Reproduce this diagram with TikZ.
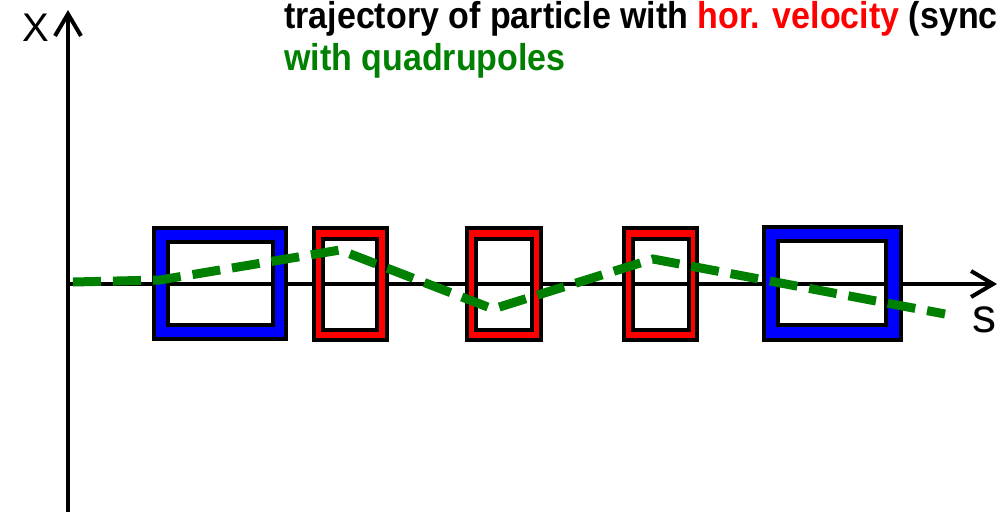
\documentclass[tikz,border=0pt]{standalone}
\usepackage{fontspec}
\setmainfont{Liberation Sans}
\usetikzlibrary{arrows.meta}
\definecolor{trajgreen}{RGB}{0,128,0}
\definecolor{magblue}{RGB}{0,0,255}
\definecolor{magred}{RGB}{255,0,0}
\tikzset{
  axisline/.style={line width=4.5pt, -{Straight Barb[length=22pt,width=26pt,line width=4pt]}},
  frameline/.style={draw=black, line width=4pt},
  traj/.style={draw=trajgreen, line width=9pt, dash pattern=on 28pt off 12pt},
  title/.style={anchor=base west, inner sep=0pt, font=\bfseries\fontsize{34}{34}\selectfont},
  axlabel/.style={inner sep=0pt, font=\fontsize{40}{40}\selectfont}
}
\newcommand{\magnet}[9]{%
  % #1 fill colour, #2-#5 outer x1 y1 x2 y2, #6-#9 inner x1 y1 x2 y2
  \fill[#1, even odd rule] (#2,#3) rectangle (#4,#5) (#6,#7) rectangle (#8,#9);
  \draw[frameline] (#2,#3) rectangle (#4,#5);
  \draw[frameline] (#6,#7) rectangle (#8,#9);
}
\begin{document}
\begin{tikzpicture}[x=1pt,y=-1pt]
\useasboundingbox (0,0) rectangle (998,512);
\clip (0,0) rectangle (998,512);
% axes
\coordinate (origin) at (68,284);
\coordinate (xtop) at (68,10);
\coordinate (xbot) at (68,512);
\coordinate (send) at (997,284);
\draw[axisline] (xbot) -- (xtop);
\draw[axisline] (origin) -- (send);
\node[axlabel] (xlab) at (36,28) {X};
\node[axlabel, anchor=base, font=\fontsize{48}{48}\selectfont] (slab) at (984,332) {s};
% magnets
\magnet{magblue}{154}{228}{286}{339}{168}{242}{273}{325}
\magnet{magred}{314}{228}{387}{340}{323}{239}{377}{330}
\magnet{magred}{467}{228}{541}{340}{476}{239}{532}{330}
\magnet{magred}{624}{228}{697}{340}{633}{239}{689}{330}
\magnet{magblue}{764}{227}{901}{340}{778}{241}{886}{325}
% trajectory
\coordinate (t0) at (73,282);
\coordinate (t1) at (160,280);
\coordinate (t2) at (340,250);
\coordinate (t3) at (493,309);
\coordinate (t4) at (653,259);
\coordinate (t5) at (945,314);
\draw[traj] (t0) -- (t1) -- (t2) -- (t3) -- (t4) -- (t5);
% title
\node[title] (line1) at (284,28) {\scalebox{1}[1.1]{trajectory of particle with \textcolor{magred}{hor. velocity} (sync}};
\node[title] (line2) at (284,70) {\scalebox{1}[1.1]{\textcolor{trajgreen}{with quadrupoles}}};
\end{tikzpicture}
\end{document}
